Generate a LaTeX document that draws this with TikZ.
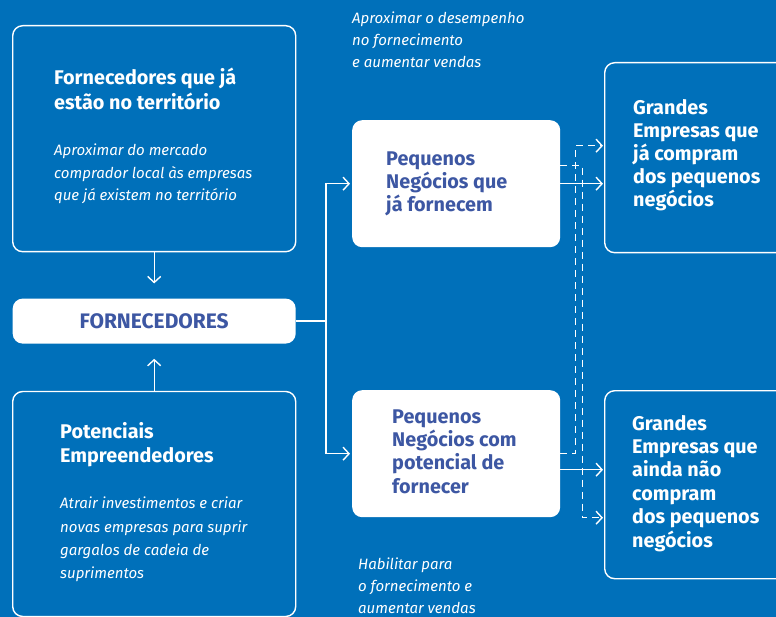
\documentclass[tikz,border=0pt]{standalone}
\usepackage{fontspec}
\setmainfont{Fira Sans}
\usetikzlibrary{positioning,arrows.meta,calc}
\definecolor{BgBlue}{HTML}{0070BA}
\definecolor{TitleBlue}{HTML}{3D57A3}

\begin{document}
\begin{tikzpicture}[
    x=1pt, y=-1pt,
    obox/.style={draw=white, line width=1.4pt, rounded corners=10pt,
                 minimum width=283pt, anchor=north west, inner sep=0pt},
    wbox/.style={fill=white, rounded corners=10pt, anchor=north west,
                 inner sep=0pt},
    ttl/.style={anchor=base west, align=left, inner sep=0pt, text=white,
                font=\fontsize{19.8}{25}\selectfont\bfseries},
    desc/.style={anchor=base west, align=left, inner sep=0pt, text=white,
                 font=\fontsize{15}{22.5}\selectfont\itshape},
    ar/.style={-{Straight Barb[length=6pt,width=13pt]}, white, line width=1.4pt},
    dar/.style={ar, dash pattern=on 7pt off 5pt},
  ]
    \useasboundingbox (0,0) rectangle (776,617);
    \fill[BgBlue] (0,0) rectangle (776,617);

    % ── Left column ──────────────────────────────────────────────────────
    \node[obox, minimum height=226pt] (fsup) at (12,25) {};
    \node[wbox, minimum width=283pt, minimum height=45pt, below=46pt of fsup,
          text=TitleBlue, font=\fontsize{21}{21}\selectfont\bfseries] (forn) {FORNECEDORES};
    \node[obox, minimum height=225pt, below=47pt of forn] (pot) {};

    \node[ttl] (fsup-t) at ($(fsup.north west)+(42,85)$) {Fornecedores que já\\estão no território};
    \node[desc] (fsup-d) at ($(fsup.north west)+(42,176)$)
      {Aproximar do mercado\\comprador local às empresas\\que já existem no território};
    \node[ttl, font=\fontsize{19.8}{24}\selectfont\bfseries] (pot-t) at ($(pot.north west)+(48,72)$)
      {Potenciais\\Empreendedores};
    \node[desc, font=\fontsize{15}{23.3}\selectfont\itshape] (pot-d) at ($(pot.north west)+(48,188)$)
      {Atrair investimentos e criar\\novas empresas para suprir\\gargalos de cadeia de\\suprimentos};

    % ── Middle column ────────────────────────────────────────────────────
    \node[wbox, minimum width=208pt, minimum height=127pt] (peq1) at (352,120) {};
    \node[wbox, minimum width=208pt, minimum height=127pt] (peq2) at (352,390) {};
    \node[ttl, text=TitleBlue, font=\fontsize{19.8}{23.3}\selectfont\bfseries] (peq1-t)
      at ($(peq1.north west)+(34,92)$) {Pequenos\\Negócios que\\já fornecem};
    \node[ttl, text=TitleBlue, font=\fontsize{19.8}{23.3}\selectfont\bfseries] (peq2-t)
      at ($(peq2.north west)+(40,103)$) {Pequenos\\Negócios com\\potencial de\\fornecer};
    \node[desc, font=\fontsize{15}{22}\selectfont\itshape] (note1) at (352,68)
      {Aproximar o desempenho\\no fornecimento\\e aumentar vendas};
    \node[desc, font=\fontsize{15}{22}\selectfont\itshape] (note2) at (358,613)
      {Habilitar para\\o fornecimento e\\aumentar vendas};

    % ── Right column ─────────────────────────────────────────────────────
    \node[obox, minimum width=200pt, minimum height=190pt] (gr1) at (604,62) {};
    \node[obox, minimum width=200pt, minimum height=188pt] (gr2) at (604,390) {};
    \node[ttl, font=\fontsize{19.8}{23}\selectfont\bfseries] (gr1-t) at ($(gr1.north west)+(29,145)$)
      {Grandes\\Empresas que\\já compram\\dos pequenos\\negócios};
    \node[ttl, font=\fontsize{19.8}{23.4}\selectfont\bfseries] (gr2-t) at ($(gr2.north west)+(28,157)$)
      {Grandes\\Empresas que\\ainda não\\compram\\dos pequenos\\negócios};

    % ── Arrows ───────────────────────────────────────────────────────────
    \draw[ar, shorten >=15pt] (fsup) -- (forn);
    \draw[ar, shorten >=15pt] (pot) -- (forn);
    \foreach \b in {peq1, peq2}
      \draw[ar, shorten >=2pt] (forn.east) -- ++(30,0) |- (\b.west);

    \draw[ar, shorten >=1pt] (peq1.east) -- (peq1.east -| gr1.west);
    \draw[ar, shorten >=1pt] ($(peq2.east)+(0,16)$) coordinate (s2) -- (s2 -| gr2.west);
    \draw[dar, shorten >=1pt] (peq2.east) -- ++(15,0) |- ($(gr1.west)+(0,-12)$);
    \draw[dar, shorten >=1pt] ($(peq1.east)+(0,-18)$) -- ++(22,0) |- ($(gr2.west)+(0,33)$);
  \end{tikzpicture}
\end{document}
